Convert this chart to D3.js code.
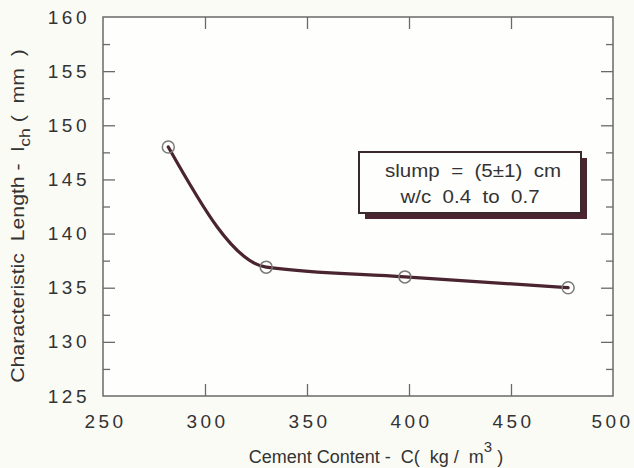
<!DOCTYPE html>
<html><head><meta charset="utf-8">
<script src="https://cdn.jsdelivr.net/npm/d3@7"></script>
<style>
html,body{margin:0;padding:0;background:#fbfbf6;}
svg{display:block;}
text{font-family:"Liberation Sans",Arial,sans-serif;fill:#333;white-space:pre;}
</style></head>
<body>
<svg id="c" width="634" height="468"></svg>
<script>
const cement = [282, 330, 398, 478];
const lch = [148, 136.9, 136, 135];
const xTicks = [250, 300, 350, 400, 450, 500];
const yTicks = [125, 130, 135, 140, 145, 150, 155, 160];
const yMinor = [127.5, 132.5, 137.5, 142.5, 147.5, 152.5, 157.5];
const legendLines = ["slump  =  (5\u00b11)  cm", "w/c  0.4  to  0.7"];

const svg = d3.select("#c");
const L = 103, R = 613, T = 17, B = 396;
const x = d3.scaleLinear().domain([250, 500]).range([L, R]);
const y = d3.scaleLinear().domain([125, 160]).range([B, T]);
const axisColor = "#6a6a6a";

// frame
svg.append("rect").attr("x", L).attr("y", T).attr("width", R - L).attr("height", B - T)
  .attr("fill", "#fefefc").attr("stroke", axisColor).attr("stroke-width", 1.5);

const inner = xTicks.filter(v => v > 250 && v < 500);
// bottom axis
const gB = svg.append("g").attr("transform", `translate(0,${B})`)
  .call(d3.axisBottom(x).tickValues(xTicks).tickSize(0).tickPadding(19).tickFormat(d3.format("d")));
gB.select(".domain").remove();
gB.selectAll("text").attr("font-size", 19).attr("letter-spacing", "3.5px")
  .attr("dx", d => d === 500 ? "-1px" : "2px").attr("fill", "#333");
svg.append("g").attr("transform", `translate(0,${B})`)
  .call(d3.axisTop(x).tickValues(inner).tickSize(12).tickFormat(""))
  .call(g => g.select(".domain").remove())
  .selectAll("line").attr("stroke", axisColor).attr("stroke-width", 1.3);
svg.append("g").attr("transform", `translate(0,${T})`)
  .call(d3.axisBottom(x).tickValues(inner).tickSize(12).tickFormat(""))
  .call(g => g.select(".domain").remove())
  .selectAll("line").attr("stroke", axisColor).attr("stroke-width", 1.3);

// left axis
const gL = svg.append("g").attr("transform", `translate(${L},0)`)
  .call(d3.axisLeft(y).tickValues(yTicks).tickSize(0).tickPadding(13).tickFormat(d3.format("d")));
gL.select(".domain").remove();
gL.selectAll("text").attr("font-size", 19).attr("letter-spacing", "3.5px").attr("fill", "#333");
const inY = yTicks.filter(v => v > 125 && v < 160);
[[L, d3.axisRight], [R, d3.axisLeft]].forEach(([px, ax]) => {
  svg.append("g").attr("transform", `translate(${px},0)`)
    .call(ax(y).tickValues(inY).tickSize(12).tickFormat(""))
    .call(g => g.select(".domain").remove())
    .selectAll("line").attr("stroke", axisColor).attr("stroke-width", 1.3);
  svg.append("g").attr("transform", `translate(${px},0)`)
    .call(ax(y).tickValues(yMinor).tickSize(7).tickFormat(""))
    .call(g => g.select(".domain").remove())
    .selectAll("line").attr("stroke", axisColor).attr("stroke-width", 1.3);
});

// curve
const pts = cement.map((c, i) => [c, lch[i]]);
const line = d3.line().x(d => x(d[0])).y(d => y(d[1])).curve(d3.curveMonotoneX);
svg.append("path").datum(pts).attr("d", line).attr("fill", "none")
  .attr("stroke", "#4a2431").attr("stroke-width", 3.2).attr("stroke-linecap", "round");

// markers
svg.append("g").selectAll("circle").data(pts).join("circle")
  .attr("cx", d => x(d[0])).attr("cy", d => y(d[1])).attr("r", 6)
  .attr("fill", "none").attr("stroke", "#7a7a7a").attr("stroke-width", 1.5);

// legend box
const bx = 359, by = 152, bw = 222, bh = 61, sh = 6;
svg.append("rect").attr("x", bx + sh).attr("y", by + sh).attr("width", bw).attr("height", bh)
  .attr("fill", "#4a2431");
svg.append("rect").attr("x", bx).attr("y", by).attr("width", bw).attr("height", bh)
  .attr("fill", "#fefefc").attr("stroke", "#3a2a2e").attr("stroke-width", 2);
svg.append("text").attr("transform", `translate(${bx + bw / 2 + 3},177) scale(1.14,1)`)
  .attr("text-anchor", "middle").attr("font-size", 18).text(legendLines[0]);
svg.append("text").attr("transform", `translate(${bx + bw / 2},203) scale(1.14,1)`)
  .attr("text-anchor", "middle").attr("font-size", 18).text(legendLines[1]);

// x label
const xl = svg.append("text").attr("x", 376).attr("y", 463).attr("text-anchor", "middle").attr("font-size", 18);
xl.append("tspan").text("Cement Content -  C(  kg /  m");
xl.append("tspan").attr("dy", -11).attr("font-size", 15).text("3");
xl.append("tspan").attr("dy", 11).text(" )");

// y label
const yl = svg.append("text").attr("transform", "translate(24,216) rotate(-90) scale(1.18,1)")
  .attr("text-anchor", "middle").attr("font-size", 18);
yl.append("tspan").text("Characteristic  Length -  l");
yl.append("tspan").attr("dy", 6).attr("font-size", 15).text("ch");
yl.append("tspan").attr("dy", -6).text(" (  mm  )");
</script>
</body></html>
